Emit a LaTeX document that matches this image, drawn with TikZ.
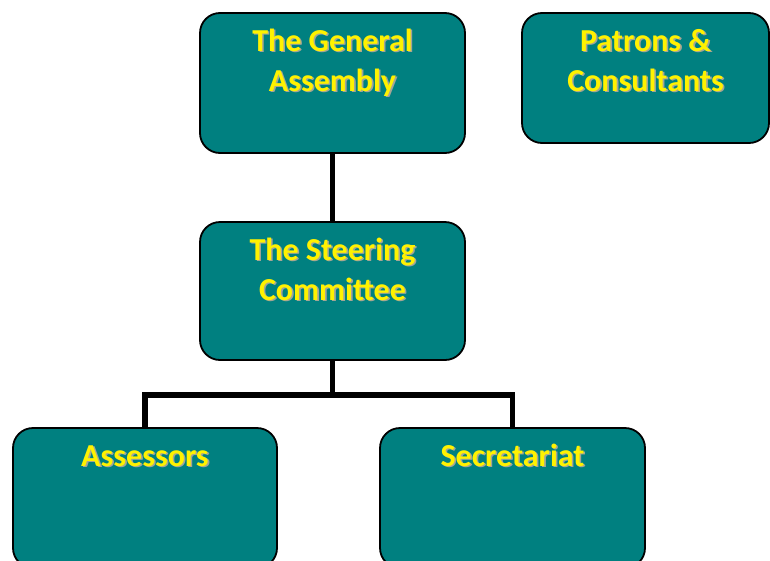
\documentclass[tikz,border=0pt]{standalone}
\usepackage{fontspec}
\setmainfont{Carlito}
\definecolor{boxteal}{RGB}{0,128,128}
\definecolor{textshade}{RGB}{165,165,150}
% heading of a box: name, box, text (drawn with a soft shadow);
% the strut makes every first line equally tall
\newcommand\heading[3]{%
  \node[title, text=textshade] at ([shift={(1.6,15.6)}]#2.north) {\rule{0pt}{25pt}#3};
  \node[title] (#1) at ([shift={(0,14)}]#2.north) {\rule{0pt}{25pt}#3};}
\begin{document}
\begin{tikzpicture}[x=1pt, y=-1pt, line join=miter,
    unit/.style={draw=black, line width=1.8pt, fill=boxteal, rounded corners=20pt, inner sep=0pt},
    title/.style={font=\bfseries\fontsize{32}{40}\selectfont, text=yellow, align=center, anchor=north, inner sep=0pt},
    link/.style={line width=5.5pt}]
  \useasboundingbox (0,0) rectangle (770,560);
  \coordinate (fork) at (332.5,395);
  \node[unit, minimum width=265pt, minimum height=140pt] (ga) at (332.5,83) {};
  \node[unit, minimum width=247pt, minimum height=130pt] (pc) at (645.5,78) {};
  \node[unit, minimum width=265pt, minimum height=138pt] (sc) at (332.5,291) {};
  \node[unit, minimum width=264pt, minimum height=140pt] (as) at (145,498) {};
  \node[unit, minimum width=265pt, minimum height=140pt] (se) at (512.5,498) {};
  \draw[link] (ga.south) -- (sc.north);
  \draw[link] (sc.south) -- (fork);
  \draw[link] (as.north) |- (fork) -| (se.north);
  \heading{ga-t}{ga}{The General\\Assembly}
  \heading{pc-t}{pc}{Patrons \&\\Consultants}
  \heading{sc-t}{sc}{The Steering\\Committee}
  \heading{as-t}{as}{Assessors}
  \heading{se-t}{se}{Secretariat}
\end{tikzpicture}
\end{document}
